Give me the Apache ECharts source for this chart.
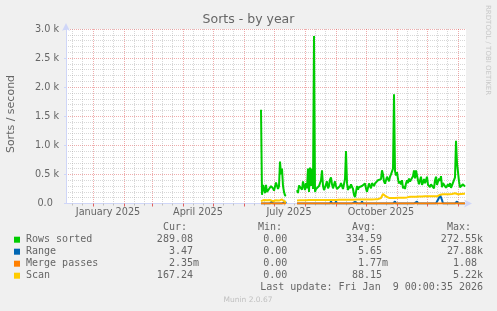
<!DOCTYPE html>
<html><head><meta charset="utf-8">
<script src="https://cdn.jsdelivr.net/npm/echarts@6/dist/echarts.min.js"></script>
<style>html,body{margin:0;padding:0;background:#f0f0f0}#c{width:497px;height:311px}</style>
</head><body><div id="c"></div>
<script>
// ---- data (daily values, sorts/second) ----
const axisStartUTC = [2024, 11, 5];   // first day shown (Dec 5 2024)
const axisDays = 401;                 // through Jan 9 2026
const dataStart = '2025-06-18';

const rowsSorted = [
1610,150,320,250,180,320,200,170,250,230,
300,330,260,220,190,360,390,250,300,720,
500,600,300,200,140,130,
null,null,null,null,null,null,null,null,null,null,
230,180,310,280,330,240,380,300,230,350,
260,600,200,620,300,600,250,2880,200,250,
230,280,300,320,400,570,300,230,200,330,
380,260,300,410,450,330,260,280,380,300,
250,280,220,300,350,320,250,280,420,900,
350,230,300,260,330,300,250,150,110,200,
300,240,280,290,260,300,270,330,345,260,
200,175,345,300,260,350,330,300,345,330,
370,400,380,430,420,570,500,380,340,400,
460,420,380,460,500,470,600,1880,560,480,
540,420,345,380,330,400,260,300,250,345,
400,350,430,380,360,400,470,570,430,570,
600,400,330,345,460,320,360,420,350,400,
460,320,300,280,330,360,300,260,400,460,
320,300,430,390,470,280,350,330,380,270,
300,330,290,350,270,310,300,320,450,1080,
700,720,380,280,250,300,330,300,290
];

const rangeVals = [
0,0,0,0,0,0,0,0,0,0,
0,35,0,0,0,0,0,0,0,0,
0,0,0,0,35,0,
null,null,null,null,null,null,null,null,null,null,
0,0,0,0,0,30,0,0,0,0,
0,0,0,0,0,0,0,0,0,0,
0,0,0,0,0,0,0,0,0,0,
0,0,0,0,35,0,0,0,0,35,
0,0,0,0,0,0,0,0,0,0,
0,0,0,0,30,0,0,0,30,0,
0,0,0,0,0,35,0,0,0,0,
0,0,0,0,0,0,0,0,0,0,
0,0,0,0,0,0,0,0,0,0,
0,0,30,0,0,0,0,0,35,0,
0,0,0,0,0,0,0,0,0,0,
0,0,0,0,0,0,0,0,0,0,
35,0,0,0,0,0,0,0,30,0,
0,0,0,0,0,0,0,0,0,0,
0,0,100,150,140,60,0,0,30,0,
0,0,0,0,0,0,0,0,0,0,
35,0,0,0,0,0,0,0,0
];

const mergePasses = [
0,0,0,0,0,0,0,0,0,0,
0,0,0,0,0,0,0,0,0,0,
0,0,0,0,0,0,
null,null,null,null,null,null,null,null,null,null,
0,0,0,0,0,0,0,0,0,0,
0,0,0,0,0,0,0,0,0,0,
0,0,0,0,0,0,0,0,0,0,
0,0,0,0,0,0,0,0,0,0,
0,0,0,0,0,0,0,0,0,0,
0,0,0,0,0,0,0,0,0,0,
0,0,0,0,0,0,0,0,0,0,
0,0,0,0,0,0,0,0,0,0,
0,0,0,0,0,0,0,0,0,0,
0,0,0,0,0,0,0,0,0,0,
0,0,0,0,0,0,0,0,0,0,
0,0,0,0,0,0,0,0,0,0,
0,0,0,0,0,0,0,0,0,0,
0,0,0,0,0,0,0,0,0,0,
0,0,0,0,0,0,0,0,0,0,
0,0,0,0,0,0,0,0,0,0,
0,0,0,0,0,0,0,0,0
];

const scanVals = [
40,60,65,60,55,50,55,60,65,60,
50,40,40,45,50,55,60,55,50,40,
50,70,60,40,30,30,
null,null,null,null,null,null,null,null,null,null,
50,50,55,55,55,55,55,55,55,55,
55,55,60,60,60,60,60,60,60,60,
60,60,60,60,60,60,60,60,60,60,
62,62,62,62,62,62,62,62,62,62,
65,65,65,65,65,65,65,65,65,65,
65,65,65,65,65,65,65,65,65,65,
68,68,68,68,68,68,68,68,68,68,
70,70,70,70,70,70,70,70,72,72,
72,75,75,80,95,130,165,175,160,120,
100,95,95,95,95,95,96,96,96,96,
96,98,98,98,98,100,100,100,105,105,
105,110,115,115,115,115,115,115,115,115,
115,120,120,120,120,120,125,125,125,125,
125,125,125,125,125,125,125,125,125,125,
125,125,125,150,170,165,160,160,160,160,
160,160,160,160,160,165,165,170,175,170,
160,160,160,165,165,165,165,167,167
];

const yMin = 0, yMax = 3000, yStep = 500;
const monthNames = ['January','February','March','April','May','June','July','August','September','October','November','December'];

const legendNames  = ['Rows sorted','Range','Merge passes','Scan'];
const legendColors = ['#00cc00','#0066b3','#ff8000','#ffcc00'];
const curVals = ['289.08 ','3.47 ','2.35m','167.24 '];
const minVals = ['0.00 ','0.00 ','0.00 ','0.00 '];
const avgVals = ['334.59 ','5.65 ','1.77m','88.15 '];
const maxVals = ['272.55k','27.88k','1.08 ','5.22k'];
const lastUpdate = 'Last update: Fri Jan  9 00:00:35 2026';

// ---- build ----
const t0 = Date.UTC(axisStartUTC[0], axisStartUTC[1], axisStartUTC[2]);
const days = [];
for (let i = 0; i < axisDays; i++) days.push(new Date(t0 + i * 86400000));
const cats = days.map(d => d.toISOString().slice(0, 10));
const startIdx = cats.indexOf(dataStart);
function place(arr) {
  const out = new Array(axisDays).fill(null);
  arr.forEach((v, i) => { out[startIdx + i] = v; });
  return out;
}
const minorDay = i => { const d = days[i].getUTCDate(); return d === 11 || d === 21; };
const majorDay = i => days[i].getUTCDate() === 1;
const labelDay = i => days[i].getUTCDate() === 16 && days[i].getUTCMonth() % 3 === 0;

const FONT = '#666666';
const AXIS = '#CFD6F8';
const GRID = 'rgba(140,140,140,0.35)';
const MGRID = 'rgba(220,70,70,0.45)';
const sans = 'DejaVu Sans';
const mono = 'DejaVu Sans Mono';

function txt(x, y, text, o) {
  o = o || {};
  return { type: 'text', x: x, y: y, silent: true, rotation: o.rotation || 0,
    style: { text: text, fill: o.fill || FONT, font: (o.size || 10) + 'px "' + (o.family || mono) + '"',
      textAlign: o.align || 'left', align: o.align || 'left',
      textVerticalAlign: 'middle', verticalAlign: 'middle' } };
}

const graphics = [];
graphics.push(txt(248.5, 20, 'Sorts - by year', { family: sans, size: 12.5, align: 'center' }));
graphics.push(txt(11, 114, 'Sorts / second', { family: sans, size: 11, align: 'center', rotation: Math.PI / 2 }));
graphics.push(txt(488, 5, 'RRDTOOL / TOBI OETIKER', { family: sans, size: 7, fill: '#c8c8c8', rotation: -Math.PI / 2 }));
graphics.push(txt(163, 227.5, 'Cur:'));
graphics.push(txt(258, 227.5, 'Min:'));
graphics.push(txt(352, 227.5, 'Avg:'));
graphics.push(txt(447, 227.5, 'Max:'));
legendNames.forEach((n, k) => {
  const y = 239.7 + k * 12;
  graphics.push({ type: 'rect', silent: true, shape: { x: 14, y: y - 3, width: 6, height: 6 }, style: { fill: legendColors[k] } });
  graphics.push(txt(26, y, n));
  graphics.push(txt(199, y, curVals[k], { align: 'right' }));
  graphics.push(txt(293.3, y, minVals[k], { align: 'right' }));
  graphics.push(txt(388, y, avgVals[k], { align: 'right' }));
  graphics.push(txt(483, y, maxVals[k], { align: 'right' }));
});
graphics.push(txt(483, 287.7, lastUpdate, { align: 'right' }));
graphics.push(txt(248, 300, 'Munin 2.0.67', { family: sans, size: 7.5, fill: '#c0c0c0', align: 'center' }));

function line(data, color, z) {
  return { type: 'line', data: place(data), symbol: 'none', showSymbol: false, connectNulls: false,
    lineStyle: { width: 2, color: color }, itemStyle: { color: color }, z: z, silent: true, animation: false };
}

const chart = echarts.init(document.getElementById('c'), null, { renderer: 'canvas' });
chart.setOption({
  animation: false,
  backgroundColor: '#f0f0f0',
  grid: { left: 66, width: 400, top: 29, bottom: 107.5, show: true, backgroundColor: '#ffffff', borderWidth: 0, containLabel: false },
  xAxis: [
    { type: 'category', data: cats, boundaryGap: false, position: 'bottom',
      axisLine: { show: true, lineStyle: { color: AXIS, width: 1 }, symbol: ['none', 'arrow'], symbolSize: [6, 8], symbolOffset: [0, 6] },
      axisTick: { show: true, interval: minorDay, length: 2, lineStyle: { color: '#c0c0c0' } },
      axisLabel: { show: true, interval: labelDay, margin: 4, color: FONT, fontSize: 9.7, fontFamily: sans,
        formatter: v => { const d = new Date(v + 'T00:00:00Z'); return monthNames[d.getUTCMonth()] + ' ' + d.getUTCFullYear(); } },
      splitLine: { show: true, interval: minorDay, lineStyle: { color: GRID, width: 1, type: [1, 1] } } },
    { type: 'category', data: cats, boundaryGap: false, position: 'bottom',
      axisLine: { show: false },
      axisTick: { show: true, interval: majorDay, length: 3, lineStyle: { color: '#e06060' } },
      axisLabel: { show: false },
      splitLine: { show: true, interval: majorDay, lineStyle: { color: MGRID, width: 1, type: [1, 1] } } }
  ],
  yAxis: { type: 'value', min: yMin, max: yMax, interval: yStep,
    axisLine: { show: true, lineStyle: { color: AXIS, width: 1 }, symbol: ['none', 'arrow'], symbolSize: [6, 8], symbolOffset: [0, 6] },
    axisTick: { show: true, length: 2, lineStyle: { color: AXIS } },
    axisLabel: { margin: 7, color: FONT, fontSize: 9.7, fontFamily: sans,
      formatter: v => v === 0 ? '0.0  ' : (v / 1000).toFixed(1) + ' k' },
    splitLine: { show: true, lineStyle: { color: MGRID, width: 1, type: [1, 1] } },
    minorTick: { show: false, splitNumber: 5 },
    minorSplitLine: { show: true, lineStyle: { color: GRID, width: 1, type: [1, 1] } } },
  series: [
    line(rowsSorted, legendColors[0], 2),
    line(rangeVals, legendColors[1], 3),
    line(mergePasses, legendColors[2], 4),
    line(scanVals, legendColors[3], 5)
  ],
  graphic: graphics
});
</script></body></html>
